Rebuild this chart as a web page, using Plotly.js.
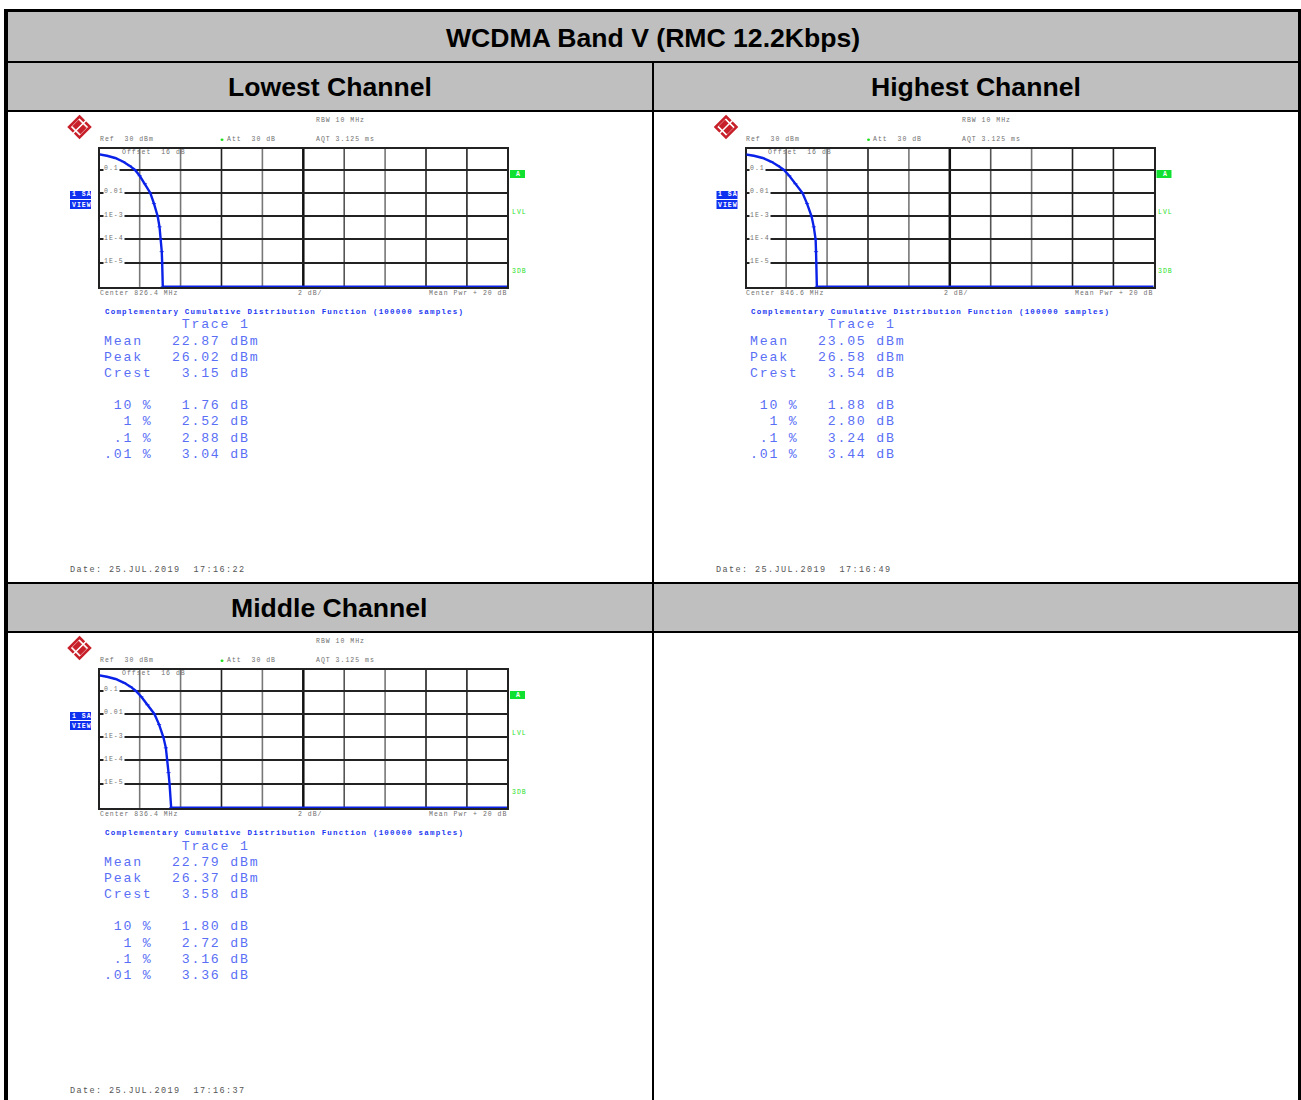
<!DOCTYPE html>
<html><head><meta charset="utf-8">
<script src="https://cdn.plot.ly/plotly-3.0.1.min.js"></script>
<style>
html,body{margin:0;padding:0;background:#fff;overflow:hidden}
text[style*="font-size: 13.2px"]{letter-spacing:1.8px}
text[style*="font-size: 6.5px"]{letter-spacing:1.0px}
text[style*="font-size: 7.5px"]{letter-spacing:1.2px}
text[style*="font-size: 8.5px"]{letter-spacing:1.4px}
</style></head><body><div id="chart" style="width:1301px;height:1100px"></div>
<script>
const mainTitle = 'WCDMA Band V (RMC 12.2Kbps)';
const channelNames = ['Lowest Channel','Highest Channel','Middle Channel'];
const centers = ['826.4','846.6','836.4'];
const dates = ['25.JUL.2019  17:16:22','25.JUL.2019  17:16:49','25.JUL.2019  17:16:37'];
const meanPwr = ['22.87','23.05','22.79'];
const peakPwr = ['26.02','26.58','26.37'];
const crest = ['3.15','3.54','3.58'];
const pct10 = ['1.76','1.88','1.80'];
const pct1 = ['2.52','2.80','2.72'];
const pct01 = ['2.88','3.24','3.16'];
const pct001 = ['3.04','3.44','3.36'];
const probTicks = [0.1,0.01,1e-3,1e-4,1e-5];
const probLabels = ['0.1','0.01','1E-3','1E-4','1E-5'];
const ccdfProb = [0.46,0.40,0.32,0.22,0.15,0.1,0.055,0.025,0.01,0.0035,0.001,0.00035,0.0001,0.00003,0.00001,0.00000093,0.00000093];
const lowestDb  = [0,0.4,0.8,1.2,1.5,1.76,2.0,2.26,2.52,2.7,2.88,2.97,3.04,3.08,3.1,3.13,20];
const highestDb = [0,0.42,0.85,1.28,1.6,1.88,2.15,2.45,2.80,3.02,3.24,3.35,3.44,3.46,3.48,3.5,20];
const middleDb  = [0,0.4,0.82,1.24,1.55,1.80,2.08,2.38,2.72,2.95,3.16,3.28,3.36,3.41,3.46,3.54,20];
const curves = [lowestDb,highestDb,middleDb];
const dbDivisions = [2,4,6,8,10,12,14,16,18];
const divisionShade = ['#777','#777','#222','#777','#111','#555','#777','#222','#222'];

const W=1301,H=1100;
const X=p=>p/W, Y=p=>1-p/H;
const nb=s=>s.replace(/ /g,'\u00A0');
const shapes=[],annotations=[],traces=[];
const rect=(x0,y0,x1,y1,fill)=>shapes.push({type:'rect',xref:'paper',yref:'paper',x0:X(x0),x1:X(x1),y0:Y(y0),y1:Y(y1),fillcolor:fill,line:{width:0},layer:'below'});
const txt=(t,x,y,size,color,o={})=>annotations.push(Object.assign({text:t,xref:'paper',yref:'paper',x:X(x),y:Y(y),xanchor:'left',yanchor:'middle',showarrow:false,borderpad:0,align:'left',font:{family:'Liberation Mono',size:size,color:color}},o));

// table
const gray='#bfbfbf',blk='#000';
rect(8,12,1298,61,gray);
[[8,652],[654,1298]].forEach(c=>{rect(c[0],63,c[1],110,gray);rect(c[0],584,c[1],631,gray);});
rect(4,9,1301,12,blk);
rect(4,9,8,1100,blk);
rect(1298,9,1301,1100,blk);
rect(8,61,1298,63,blk);
rect(8,110,1298,112,blk);
rect(8,582,1298,584,blk);
rect(8,631,1298,633,blk);
rect(652,61,654,1100,blk);
const head=(t,x,y)=>txt(t,x,y,26.6,'#000',{xanchor:'center',font:{family:'Liberation Sans',size:26.6,color:'#000',weight:700}});
head(mainTitle,653,38);
head(channelNames[0],329.5,87);head(channelNames[1],976,87);head(channelNames[2],329.5,608);

const offs=[[0,0],[646.5,0],[0,521]];
const layout={width:W,height:H,margin:{l:0,r:0,t:0,b:0},paper_bgcolor:'#fff',plot_bgcolor:'#fff',showlegend:false,shapes,annotations};
const small='#707070', stat='#5a6ff5', dark='#0a22e8', green='#1fe01f';
offs.forEach((o,i)=>{
  const dx=o[0],dy=o[1],n=i?String(i+1):'';
  const xa='xaxis'+n, ya='yaxis'+n, xr='x'+n, yr='y'+n;
  layout[xa]={domain:[X(100+dx),X(507+dx)],range:[0.06,19.96],anchor:yr,showgrid:false,zeroline:false,showticklabels:false,ticks:'',showline:true,mirror:true,linecolor:'#222',linewidth:2,layer:'below traces'};
  layout[ya]={domain:[Y(286.9+dy),Y(148.7+dy)],type:'log',range:[-6.039,-0.095],anchor:xr,tickmode:'array',tickvals:probTicks,showgrid:true,gridcolor:'#222',gridwidth:2,zeroline:false,showticklabels:false,ticks:'',showline:true,mirror:true,linecolor:'#222',linewidth:2,layer:'below traces'};
  dbDivisions.forEach((d,k)=>shapes.push({type:'line',xref:xr,yref:yr+' domain',x0:d,x1:d,y0:0,y1:1,layer:'below',line:{color:divisionShade[k],width:d===10?2.5:1.6}}));
  traces.push({type:'scatter',mode:'lines+markers',x:curves[i],y:ccdfProb,xaxis:xr,yaxis:yr,cliponaxis:false,line:{color:dark,width:2.4},marker:{symbol:'line-ew',size:3,line:{width:0.8,color:dark},color:dark},hoverinfo:'skip'});
  probTicks.forEach((v,k)=>annotations.push({text:probLabels[k],xref:'paper',yref:yr,x:X(102.5+dx),y:Math.log10(v),xanchor:'left',yanchor:'middle',yshift:1,showarrow:false,borderpad:0,bgcolor:'#fff',font:{family:'Liberation Mono',size:6.5,color:small}}));
  txt('RBW 10 MHz',314.5+dx,120+dy,6.5,small);
  txt(nb('Ref  30 dBm'),98.5+dx,139.5+dy,6.5,small);
  txt(nb('Att  30 dB'),225.5+dx,139.5+dy,6.5,small);
  txt(nb('AQT 3.125 ms'),314.5+dx,139.5+dy,6.5,small);
  txt(nb('Offset  16 dB'),120.5+dx,152+dy,6.5,small);
  txt(nb('Center '+centers[i]+' MHz'),98.5+dx,293+dy,6.5,small);
  txt('2 dB/',296.5+dx,293+dy,6.5,small);
  txt('Mean Pwr + 20 dB',427.5+dx,293+dy,6.5,small);
  shapes.push({type:'circle',xref:'paper',yref:'paper',x0:X(220.5+dx),x1:X(223.5+dx),y0:Y(141+dy),y1:Y(138.5+dy),fillcolor:green,line:{width:0}});
  rect(70+dx,191+dy,91+dx,199+dy,'#1030f0');
  rect(70+dx,200+dy,91+dx,209+dy,'#1030f0');
  txt('1 SA',70.5+dx,195+dy,6.5,'#fff',{font:{family:'Liberation Mono',size:6.5,color:'#fff',weight:700}});
  txt('VIEW',70.5+dx,205+dy,6.5,'#fff',{font:{family:'Liberation Mono',size:6.5,color:'#fff',weight:700}});
  rect(510+dx,170+dy,525+dx,178+dy,'#10e030');
  txt('A',515+dx,174+dy,6.5,'#fff',{font:{family:'Liberation Mono',size:6.5,color:'#fff',weight:700}});
  txt('LVL',510.5+dx,212+dy,6.5,green);
  txt('3DB',510.5+dx,271+dy,6.5,green);
  // logo
  const lx=79.5+dx,ly=127+dy,r=10.5;
  const P=(a,b)=>X(lx+a)+','+Y(ly+b);
  const poly=pts=>'M'+pts.map(q=>P(q[0],q[1])).join(' L')+' Z';
  shapes.push({type:'path',xref:'paper',yref:'paper',path:poly([[0,-r],[r,0],[0,r],[-r,0]]),fillcolor:'rgba(0,0,0,0)',line:{color:'#c8202a',width:2.5}});
  shapes.push({type:'path',xref:'paper',yref:'paper',path:poly([[-7,-1],[-1,-7],[3,-3],[-3,3]]),fillcolor:'#c8202a',line:{color:'#c8202a',width:0.5}});
  shapes.push({type:'path',xref:'paper',yref:'paper',path:poly([[7,1],[1,7],[-3,3],[3,-3]]),fillcolor:'#c8202a',line:{color:'#c8202a',width:0.5}});
  shapes.push({type:'path',xref:'paper',yref:'paper',path:poly([[8,-8],[-8,8]]),line:{color:'#ffffff',width:1.5}});
  txt('Complementary Cumulative Distribution Function (100000 samples)',103.5+dx,312+dy,7.5,'#1c38f0',{font:{family:'Liberation Mono',size:7.5,color:'#1c38f0',weight:700}});
  const rows=[['        Trace 1',325],['Mean   '+meanPwr[i]+' dBm',341.5],['Peak   '+peakPwr[i]+' dBm',357.5],['Crest   '+crest[i]+' dB',373.5],
    [' 10 %   '+pct10[i]+' dB',405.5],['  1 %   '+pct1[i]+' dB',422],[' .1 %   '+pct01[i]+' dB',438],['.01 %   '+pct001[i]+' dB',454.5]];
  rows.forEach(r=>txt(nb(r[0]),102.5+dx,r[1]+dy,13.2,stat));
  txt(nb('Date: '+dates[i]),68.5+dx,569.5+dy,8.5,'#555');
});
Plotly.newPlot('chart',traces,layout,{staticPlot:true,displayModeBar:false});
</script></body></html>
